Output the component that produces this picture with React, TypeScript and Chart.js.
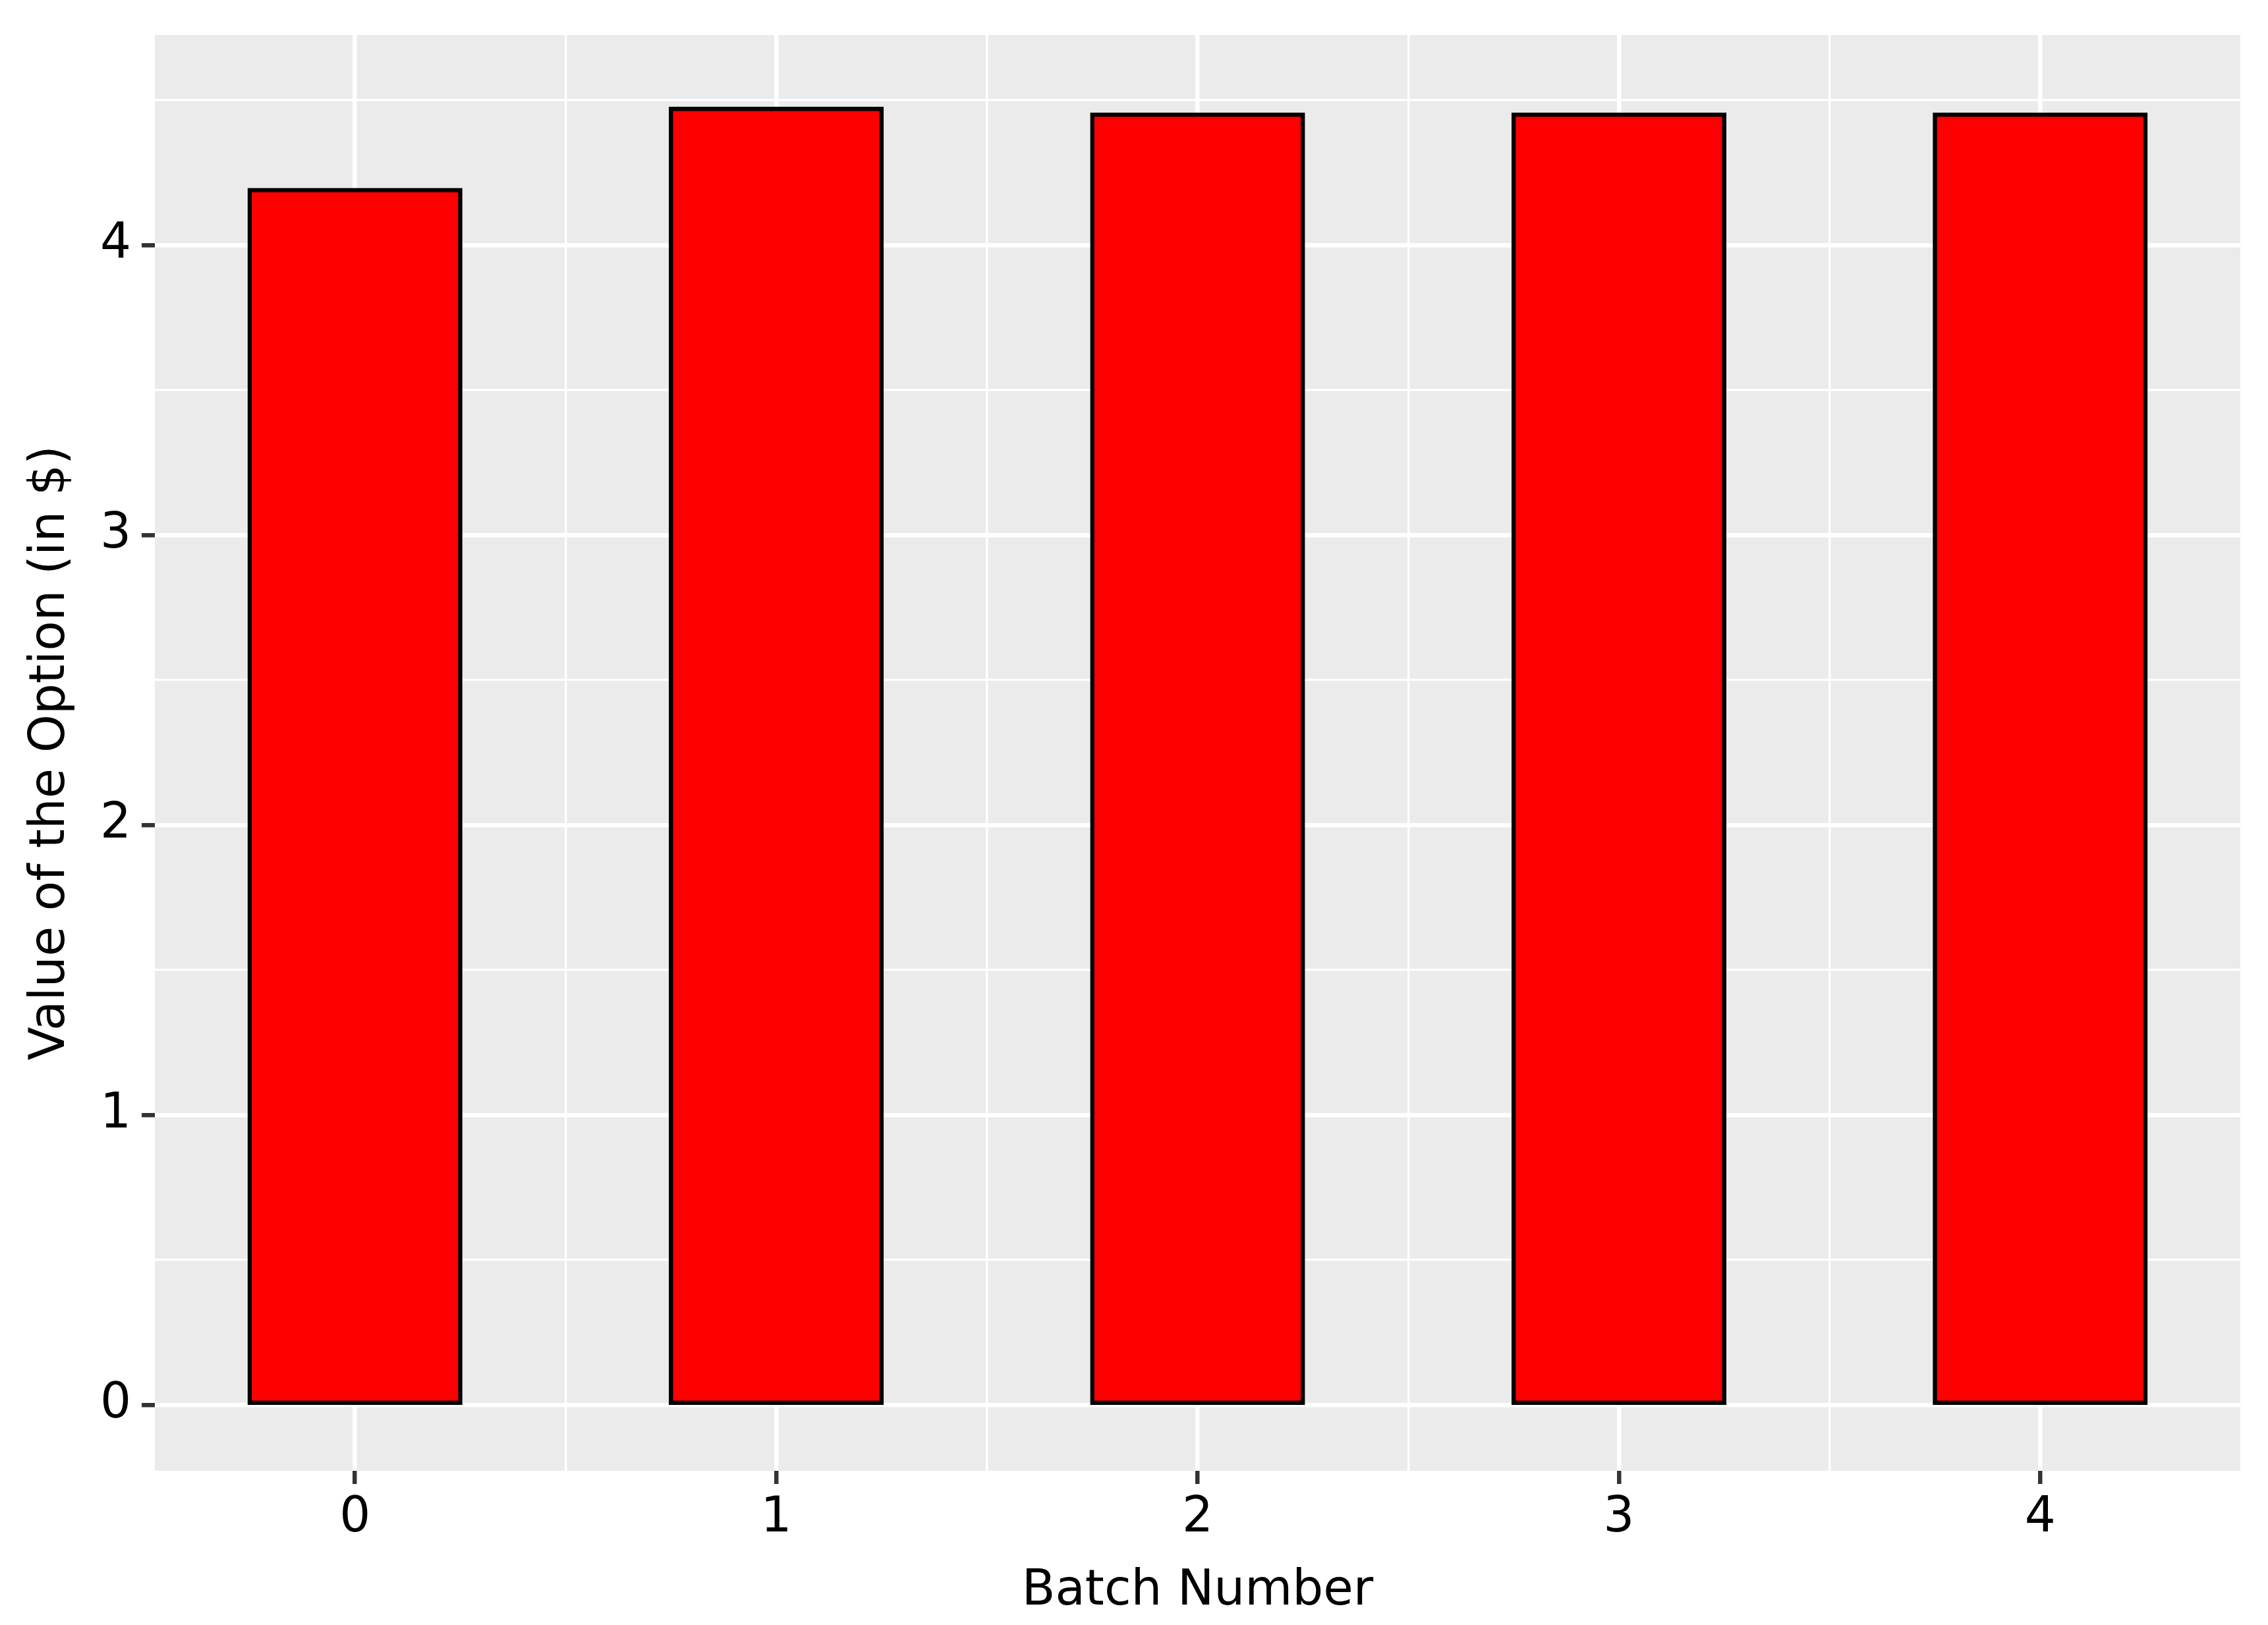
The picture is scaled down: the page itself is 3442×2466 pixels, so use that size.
import { useEffect, useRef } from "react";
import { Chart, registerables } from "chart.js";

Chart.register(...registerables);

// ---- data ----
const batches = [0, 1, 2, 3, 4];
const optionValues = [4.19, 4.47, 4.45, 4.45, 4.45];
const xTickValues = [0, 0.5, 1, 1.5, 2, 2.5, 3, 3.5, 4];
const yTickValues = [0, 0.5, 1, 1.5, 2, 2.5, 3, 3.5, 4, 4.5];
const xTitle = "Batch Number";
const yTitle = "Value of the Option (in $)";

const W = 3442;
const H = 2466;
const FONT = "DejaVu Sans";
const MAJOR_W = 6.5;
const MINOR_W = 3.3;

const isMajor = (v: number) => Math.abs(v - Math.round(v)) < 1e-9;

const panelBg = {
  id: "panelBg",
  beforeDraw(chart: any) {
    const { ctx, chartArea, width, height } = chart;
    ctx.save();
    ctx.fillStyle = "#FFFFFF";
    ctx.fillRect(0, 0, width, height);
    ctx.fillStyle = "#EBEBEB";
    ctx.fillRect(
      chartArea.left,
      chartArea.top,
      chartArea.right - chartArea.left,
      chartArea.bottom - chartArea.top
    );
    ctx.restore();
  },
};

function gridOpts() {
  return {
    display: true,
    offset: false,
    drawOnChartArea: true,
    drawTicks: true,
    tickLength: 20,
    color: "#FFFFFF",
    lineWidth: (c: any) => (c.tick && isMajor(c.tick.value) ? MAJOR_W : MINOR_W),
    tickColor: (c: any) =>
      c.tick && isMajor(c.tick.value) ? "#333333" : "rgba(0,0,0,0)",
    tickWidth: (c: any) => (c.tick && isMajor(c.tick.value) ? MAJOR_W : MINOR_W),
  };
}

function zeroPadding(scale: any) {
  scale.paddingTop = 0;
  scale.paddingBottom = 0;
  scale.paddingLeft = 0;
  scale.paddingRight = 0;
}

export default function App() {
  const ref = useRef<HTMLCanvasElement | null>(null);

  useEffect(() => {
    document.body.style.margin = "0";
    const canvas = ref.current;
    if (!canvas) return;
    const chart = new Chart(canvas, {
      type: "bar",
      data: {
        datasets: [
          {
            data: batches.map((b, i) => ({ x: b, y: optionValues[i] })),
            backgroundColor: "#FF0000",
            borderColor: "#000000",
            borderWidth: 6.5,
            borderSkipped: false,
            inflateAmount: 3.25,
            barPercentage: 1,
            categoryPercentage: 1,
          } as any,
        ],
      },
      options: {
        animation: false,
        responsive: false,
        devicePixelRatio: 1,
        layout: { padding: { top: 53, right: 42, left: 0, bottom: 0 } },
        plugins: {
          legend: { display: false },
          tooltip: { enabled: false },
          title: { display: false },
        },
        scales: {
          x: {
            type: "linear",
            min: -0.475,
            max: 4.475,
            offset: false,
            border: { display: false },
            grid: gridOpts() as any,
            afterBuildTicks: (scale: any) => {
              scale.ticks = xTickValues.map((v) => ({ value: v }));
            },
            afterFit: (scale: any) => {
              scale.height = 234;
              zeroPadding(scale);
            },
            ticks: {
              autoSkip: false,
              maxRotation: 0,
              minRotation: 0,
              padding: 8,
              color: "#000000",
              font: { family: FONT, size: 74 },
              callback: (v: any) => (isMajor(Number(v)) ? String(Number(v)) : ""),
            },
            title: {
              display: true,
              text: xTitle,
              color: "#000000",
              font: { family: FONT, size: 74 },
              padding: { top: 0, bottom: 6 },
            },
          },
          y: {
            type: "linear",
            min: -0.227,
            max: 4.725,
            border: { display: false },
            grid: gridOpts() as any,
            afterBuildTicks: (scale: any) => {
              scale.ticks = yTickValues.map((v) => ({ value: v }));
            },
            afterFit: (scale: any) => {
              scale.width = 235;
              zeroPadding(scale);
            },
            ticks: {
              autoSkip: false,
              padding: 16,
              color: "#000000",
              font: { family: FONT, size: 74 },
              callback: (v: any) => (isMajor(Number(v)) ? String(Number(v)) : ""),
            },
            title: {
              display: true,
              text: yTitle,
              color: "#000000",
              font: { family: FONT, size: 74 },
              padding: { top: 33, bottom: 0 },
            },
          },
        },
      } as any,
      plugins: [panelBg],
    });
    return () => chart.destroy();
  }, []);

  return (
    <div style={{ position: "absolute", left: 0, top: 0, width: W, height: H }}>
      <canvas ref={ref} width={W} height={H} style={{ display: "block", width: W, height: H }} />
    </div>
  );
}
